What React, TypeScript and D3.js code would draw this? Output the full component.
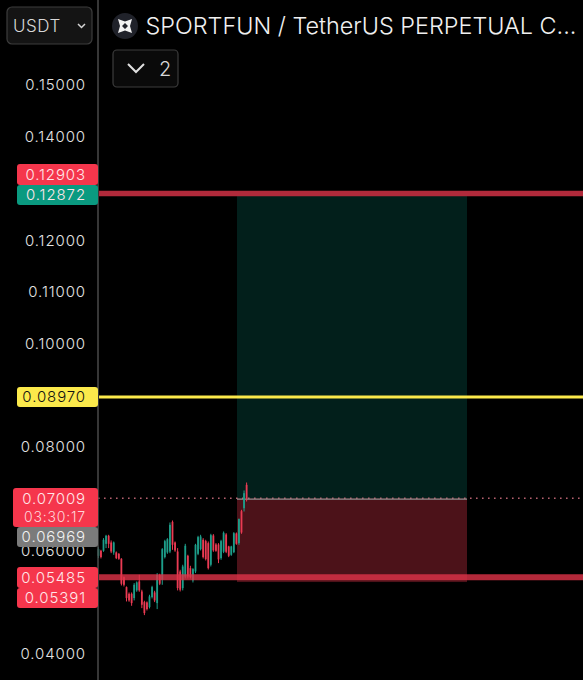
import { scaleLinear, scaleBand, range } from "d3";

const width = 583;
const height = 680;

const tickLabels = [0.15, 0.14, 0.13, 0.12, 0.11, 0.1, 0.08, 0.07, 0.06, 0.04];
const title = "SPORTFUN / TetherUS PERPETUAL C...";

// levels on the chart
const stopPrice = 0.12903;
const targetPrice = 0.12872;
const yellowPrice = 0.0897;
const lastPrice = 0.07009;
const entryPrice = 0.06969;
const lowerLinePrice = 0.05485;
const lowerBoxPrice = 0.05391;

const opens = [
  0.05898, 0.05995, 0.05995, 0.0613, 0.06285, 0.06156, 0.05963, 0.05963, 0.05937, 0.05841,
  0.05486, 0.05293, 0.05164, 0.05164, 0.05081, 0.05229, 0.05403, 0.05209, 0.05003, 0.04997,
  0.04907, 0.051, 0.0519, 0.04984, 0.05525, 0.05435, 0.05873, 0.05963, 0.05982, 0.06555,
  0.06156, 0.05982, 0.05596, 0.05274, 0.05499, 0.05898, 0.0566, 0.05422, 0.05596, 0.05937,
  0.06027, 0.06208, 0.06182, 0.06143, 0.05725, 0.06291, 0.06117, 0.06117, 0.05853, 0.05976,
  0.06311, 0.06079, 0.05918, 0.05969, 0.0633, 0.06143, 0.06761, 0.06819, 0.0727,
];
const highs = [
  0.06066, 0.06014, 0.0624, 0.06304, 0.06304, 0.06195, 0.06175, 0.05982, 0.0595, 0.05853,
  0.05499, 0.05306, 0.0519, 0.0519, 0.0537, 0.05403, 0.05531, 0.05242, 0.05029, 0.05016,
  0.05145, 0.05319, 0.05222, 0.05564, 0.05551, 0.06047, 0.06208, 0.0624, 0.06542, 0.06581,
  0.06175, 0.06047, 0.05628, 0.05725, 0.0613, 0.05918, 0.05705, 0.0566, 0.0613, 0.06285,
  0.06304, 0.0624, 0.06208, 0.06175, 0.06324, 0.06317, 0.06143, 0.06143, 0.06208, 0.06369,
  0.06336, 0.06092, 0.06092, 0.06356, 0.06349, 0.06594, 0.06787, 0.07161, 0.07315,
];
const lows = [
  0.05853, 0.05847, 0.05976, 0.06047, 0.06047, 0.0595, 0.05918, 0.05834, 0.05821, 0.05325,
  0.05306, 0.05016, 0.0501, 0.04932, 0.05036, 0.05203, 0.05203, 0.04887, 0.04752, 0.04842,
  0.04881, 0.05074, 0.05003, 0.04868, 0.05332, 0.05338, 0.05847, 0.05937, 0.0595, 0.06014,
  0.05976, 0.05229, 0.05209, 0.05229, 0.05461, 0.05461, 0.05461, 0.05383, 0.05564, 0.05911,
  0.06002, 0.05847, 0.05808, 0.05634, 0.05692, 0.05976, 0.05976, 0.05757, 0.05821, 0.0595,
  0.0595, 0.05873, 0.05898, 0.0595, 0.06111, 0.06111, 0.06324, 0.06755, 0.06948,
];
const closes = [
  0.06027, 0.05873, 0.06208, 0.06285, 0.0613, 0.05982, 0.06156, 0.05853, 0.05841, 0.05358,
  0.05338, 0.05081, 0.05036, 0.04984, 0.05338, 0.05383, 0.05229, 0.04952, 0.04791, 0.04868,
  0.05113, 0.05293, 0.05036, 0.05531, 0.05358, 0.06027, 0.06182, 0.0622, 0.06497, 0.06111,
  0.06002, 0.05274, 0.05242, 0.05692, 0.06092, 0.05499, 0.05486, 0.05641, 0.06111, 0.06259,
  0.06272, 0.05873, 0.05834, 0.0566, 0.06298, 0.06002, 0.05995, 0.05829, 0.06182, 0.06343,
  0.05976, 0.05898, 0.06079, 0.06336, 0.0613, 0.06615, 0.06349, 0.07109, 0.07009,
];

const up = "#1f9e8a";
const down = "#ea3a52";
const red = "#f5364c";
const font = "Inter, 'Noto Sans', sans-serif";

const y = scaleLinear().domain([0.04, 0.15]).range([654, 85]);
const x = scaleBand<number>()
  .domain(range(opens.length))
  .range([97.5, 247.5])
  .paddingInner(0.3);

const Tag = ({ top, h, left = 17, fill, label, color = "#ffe6e9" }: any) => (
  <g>
    <rect x={left} y={top} width={98 - left} height={h} rx={3} fill={fill} />
    <text
      x={86}
      y={top + h / 2}
      dy=".36em"
      textAnchor="end"
      fontSize={15}
      fontWeight={300}
      letterSpacing={0.9}
      fill={color}
    >
      {label}
    </text>
  </g>
);

export default function App() {
  const zoneLeft = 237;
  const zoneRight = 467;
  return (
    <svg
      width={width}
      height={height}
      style={{ position: "absolute", left: 0, top: 0, background: "#000" }}
      fontFamily={font}
    >
      <defs>
        <filter id="soft" x="-5%" y="-5%" width="110%" height="110%">
          <feGaussianBlur stdDeviation="0.35" />
        </filter>
      </defs>
      {/* position zones */}
      <rect
        x={zoneLeft}
        y={y(targetPrice)}
        width={zoneRight - zoneLeft}
        height={y(lastPrice) - y(targetPrice)}
        fill="#021f1b"
      />
      <rect
        x={zoneLeft}
        y={y(lastPrice)}
        width={zoneRight - zoneLeft}
        height={y(lowerBoxPrice) - y(lastPrice)}
        fill="#4c1219"
      />

      <line x1={98} x2={width} y1={y(lastPrice)} y2={y(lastPrice)} stroke="#b5606e" strokeWidth={1.5} strokeDasharray="1.6 4.4" />
      <line x1={zoneLeft} x2={zoneRight} y1={y(lastPrice) + 0.8} y2={y(lastPrice) + 0.8} stroke="#8f8f8f" strokeWidth={1.4} />

      {/* candles */}
      <g filter="url(#soft)">
        {opens.map((o, i) => {
          const color = closes[i] >= o ? up : down;
          const cx = (x(i) ?? 0) + x.bandwidth() / 2;
          const top = y(Math.max(o, closes[i]));
          return (
            <g key={i}>
              <line x1={cx} x2={cx} y1={y(highs[i])} y2={y(lows[i])} stroke={color} strokeWidth={1} />
              <rect
                x={x(i)}
                y={top}
                width={x.bandwidth()}
                height={y(Math.min(o, closes[i])) - top}
                fill={color}
              />
            </g>
          );
        })}
      </g>

      {/* level lines */}
      <line x1={99} x2={width} y1={y(stopPrice)} y2={y(stopPrice)} stroke="#b12a3b" strokeWidth={5.5} />
      <line x1={99} x2={width} y1={y(yellowPrice)} y2={y(yellowPrice)} stroke="#fbe94b" strokeWidth={3} />
      <line x1={99} x2={width} y1={y(lowerLinePrice)} y2={y(lowerLinePrice)} stroke="#e03349" strokeOpacity={0.8} strokeWidth={6} />

      {/* price axis */}
      <line x1={98} x2={98} y1={0} y2={height} stroke="#4a4a4a" strokeWidth={1.5} />
      {tickLabels.map((t) => (
        <text
          key={t}
          x={86}
          y={y(t)}
          dy=".36em"
          textAnchor="end"
          fontSize={15}
          fontWeight={300}
          letterSpacing={0.9}
          fill="#e4e4e4"
        >
          {t.toFixed(5)}
        </text>
      ))}

      <Tag top={164} h={21} fill={red} label={stopPrice.toFixed(5)} />
      <Tag top={185} h={20} fill="#0a9a80" label={targetPrice.toFixed(5)} />
      <Tag top={387} h={20} fill="#fbe94b" label={yellowPrice.toFixed(5)} color="#111" />
      <g>
        <rect x={13} y={488} width={85} height={39} rx={3} fill={red} />
        <text x={86} y={499} dy=".36em" textAnchor="end" fontSize={15} fontWeight={300} letterSpacing={0.9} fill="#ffe6e9">
          {lastPrice.toFixed(5)}
        </text>
        <text x={86} y={517} dy=".36em" textAnchor="end" fontSize={14} fontWeight={300} letterSpacing={0.8} fill="#ffd5da">
          03:30:17
        </text>
      </g>
      <Tag top={527} h={20} fill="#7b7b7b" label={entryPrice.toFixed(5)} color="#f2f2f2" />
      <Tag top={567} h={21} fill={red} label={lowerLinePrice.toFixed(5)} />
      <Tag top={588} h={20} fill={red} label={lowerBoxPrice.toFixed(5)} />

      {/* currency button */}
      <rect x={7} y={7} width={85} height={37} rx={5} fill="#141414" stroke="#3c3c3c" strokeWidth={1.2} />
      <text x={13} y={32} fontSize={17} fontWeight={300} letterSpacing={0.5} fill="#d8d8d8">
        USDT
      </text>
      <path d="M78 24 l3.5 3.5 l3.5 -3.5" fill="none" stroke="#d4d4d4" strokeWidth={1.5} />

      {/* title */}
      <circle cx={125} cy={26} r={13} fill="#20222a" />
      <path
        d="M118 19 L125 21.5 L132 19 L130 26 L132 33 L125 30.5 L118 33 L120 26 Z M125 23 L122 26 L125 29 L128 26 Z"
        fill="#f2f2f2"
        fillRule="evenodd"
      />
      <text x={145.5} y={34} fontSize={23.4} fontWeight={300} fill="#f0f0f0">
        {title}
      </text>

      {/* collapse button */}
      <rect x={113} y={50} width={65} height={37} rx={4} fill="#0a0a0a" stroke="#3c3c3c" strokeWidth={1.2} />
      <path d="M128 64 l8 8 l8 -8" fill="none" stroke="#e0e0e0" strokeWidth={2} />
      <text x={159} y={76} fontSize={20} fontWeight={300} fill="#d8d8d8">
        2
      </text>
    </svg>
  );
}
